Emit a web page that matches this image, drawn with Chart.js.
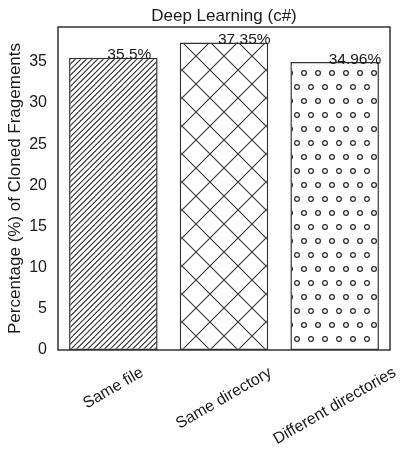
<!DOCTYPE html>
<html>
<head>
<meta charset="utf-8">
<script src="https://cdn.jsdelivr.net/npm/chart.js@4.4.1/dist/chart.umd.min.js"></script>
<style>
  html, body { margin: 0; padding: 0; background: #fff; }
  canvas { display: block; }
</style>
</head>
<body>
<canvas id="grafico-barras" width="407" height="466"></canvas>
<script>
const titulo = "Deep Learning (c#)";
const tituloEjeY = "Percentage (%) of Cloned Fragements";
const categorias = ["Same file", "Same directory", "Different directories"];
const porcentajes = [35.5, 37.35, 34.96];
const etiquetasValor = ["35.5%", "37.35%", "34.96%"];
const ticksY = [0, 5, 10, 15, 20, 25, 30, 35];
const tramas = ["diagonal", "cruz", "circulos"];
const maxEjeY = 39.22;

const fuente = "'Liberation Sans', Arial, sans-serif";
const colorTexto = "#1a1a1a";
const colorLinea = "#333";

// trama tipo matplotlib (///, x, o) en un tile de 28x28
function crearTrama(tipo) {
    const c = document.createElement("canvas");
    c.width = 28;
    c.height = 28;
    const g = c.getContext("2d");
    g.fillStyle = "#fff";
    g.fillRect(0, 0, 28, 28);
    g.strokeStyle = colorLinea;
    g.lineWidth = 1.1;
    g.beginPath();
    if (tipo === "diagonal") {
        for (let k = -6; k <= 6; k++) {
            g.moveTo(k * 5.6, 28);
            g.lineTo(k * 5.6 + 28, 0);
        }
    } else if (tipo === "cruz") {
        for (let k = -1; k <= 1; k++) {
            g.moveTo(k * 28, 28);
            g.lineTo(k * 28 + 28, 0);
            g.moveTo(k * 28, 0);
            g.lineTo(k * 28 + 28, 28);
        }
    }
    g.stroke();
    if (tipo === "circulos") {
        g.lineWidth = 1.3;
        const puntos = [[0, 0], [14, 0], [28, 0], [0, 28], [14, 28], [28, 28], [7, 14], [21, 14]];
        puntos.forEach(p => {
            g.beginPath();
            g.arc(p[0] + 3, p[1] + 3, 2.4, 0, Math.PI * 2);
            g.stroke();
        });
    }
    return g.createPattern(c, "repeat");
}

const fondos = tramas.map(t => crearTrama(t));

// titulo, marco, etiquetas de valor y etiquetas del eje x
const extras = {
    id: "extras",
    afterDatasetsDraw(chart) {
        const ctx = chart.ctx;
        const area = chart.chartArea;
        const escalaX = chart.scales.x;
        ctx.save();

        ctx.strokeStyle = colorLinea;
        ctx.lineWidth = 1.5;
        ctx.strokeRect(area.left, area.top, area.right - area.left, area.bottom - area.top);

        ctx.fillStyle = colorTexto;
        ctx.font = "17px " + fuente;
        ctx.textAlign = "center";
        ctx.textBaseline = "alphabetic";
        ctx.fillText(titulo, (area.left + area.right) / 2, 21);

        const barras = chart.getDatasetMeta(0).data;
        ctx.font = "15.5px " + fuente;
        ctx.textAlign = "left";
        barras.forEach((barra, i) => {
            ctx.fillText(etiquetasValor[i], barra.x - 6, barra.y + 1.5);
        });

        ctx.font = "16px " + fuente;
        ctx.textAlign = "center";
        ctx.textBaseline = "middle";
        const ang = Math.PI / 6;
        categorias.forEach((cat, i) => {
            const w = ctx.measureText(cat).width;
            const h = 16 * 1.15;
            const altoRot = w * Math.sin(ang) + h * Math.cos(ang);
            const x = escalaX.getPixelForValue(i);
            const y = area.bottom + 13.5 + altoRot / 2;
            ctx.save();
            ctx.translate(x, y);
            ctx.rotate(-ang);
            ctx.fillText(cat, 0, 0);
            ctx.restore();
        });
        ctx.restore();
    }
};

const ctxBarras = document.getElementById("grafico-barras");

const grafico = new Chart(ctxBarras, {
    type: "bar",
    data: {
        labels: categorias,
        datasets: [{
            data: porcentajes,
            backgroundColor: fondos,
            borderColor: colorLinea,
            borderWidth: 1.5,
            borderSkipped: false,
            categoryPercentage: 0.8,
            barPercentage: 1.0
        }]
    },
    options: {
        responsive: false,
        devicePixelRatio: 1,
        animation: false,
        layout: { padding: { top: 27, right: 17, left: 0, bottom: 0 } },
        plugins: {
            legend: { display: false },
            title: { display: false },
            tooltip: { enabled: false }
        },
        scales: {
            x: {
                grid: { display: false, drawTicks: false },
                border: { display: false },
                ticks: { display: false },
                afterFit(scale) { scale.height = 116; }
            },
            y: {
                min: 0,
                max: maxEjeY,
                grid: { display: false, drawTicks: false },
                border: { display: false },
                afterBuildTicks(scale) {
                    scale.ticks = ticksY.map(v => ({ value: v }));
                },
                ticks: {
                    padding: 11,
                    color: colorTexto,
                    font: { family: fuente, size: 16 }
                },
                title: {
                    display: true,
                    text: tituloEjeY,
                    color: colorTexto,
                    font: { family: fuente, size: 17 },
                    padding: { top: 5, bottom: 0 }
                },
                afterFit(scale) { scale.width = 58; }
            }
        }
    },
    plugins: [extras]
});
</script>
</body>
</html>
